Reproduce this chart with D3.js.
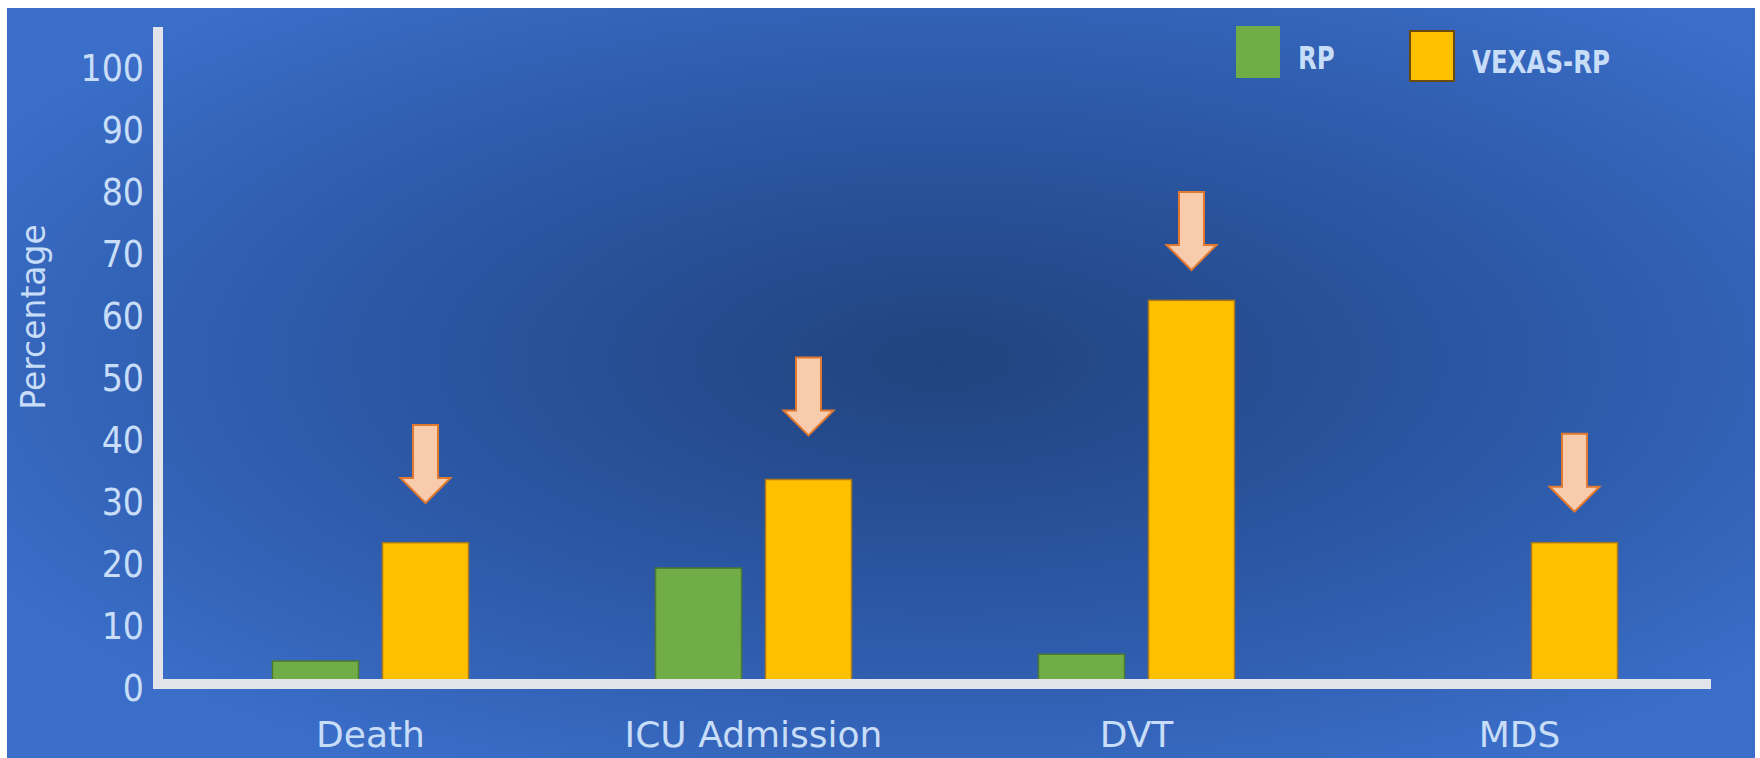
<!DOCTYPE html>
<html>
<head>
<meta charset="utf-8">
<script src="https://cdn.jsdelivr.net/npm/d3@7"></script>
<style>
  html, body { margin: 0; padding: 0; background: #ffffff; }
  svg { display: block; }
</style>
</head>
<body>
<svg id="chart" width="1760" height="758"></svg>
<script>
// Outcome categories and the two compared groups
const categories = ["Death", "ICU Admission", "DVT", "MDS"];
const seriesNames = ["RP", "VEXAS-RP"];
const rpValues = [3.7, 18.7, 4.8, 0];
const vexasValues = [22.8, 33, 61.9, 22.8];
// Level (in %) where each highlighting arrow points
const arrowTipLevels = [29.2, 40.1, 66.8, 27.8];
const yTicks = [0, 10, 20, 30, 40, 50, 60, 70, 80, 90, 100];

const W = 1760, H = 758;
const svg = d3.select("#chart");

// Background panel with a radial blue shading
const defs = svg.append("defs");
const grad = defs.append("radialGradient")
  .attr("id", "bg")
  .attr("cx", 0.535).attr("cy", 0.47).attr("r", 0.62)
  .attr("fx", 0.535).attr("fy", 0.47);
grad.append("stop").attr("offset", "0%").attr("stop-color", "#21437e");
grad.append("stop").attr("offset", "55%").attr("stop-color", "#2c58a6");
grad.append("stop").attr("offset", "100%").attr("stop-color", "#3a6ec8");

svg.append("rect")
  .attr("x", 7).attr("y", 8)
  .attr("width", 1748).attr("height", H - 8)
  .attr("fill", "url(#bg)");

// Scales
const axisX = 158;
const x0 = d3.scaleBand().domain(categories).range([179, 1711]);
const groupW = 196;
const x1 = d3.scaleBand().domain(seriesNames)
  .range([(x0.bandwidth() - groupW) / 2, (x0.bandwidth() + groupW) / 2])
  .paddingInner(24 / 110);
const y = d3.scaleLinear().domain([0, 106]).range([684, 27]);

const colors = { "RP": "#70ad47", "VEXAS-RP": "#ffc000" };
const strokes = { "RP": "#4d7a2e", "VEXAS-RP": "#a9781a" };

const rows = categories.map((c, i) => ({
  category: c,
  values: [
    { series: "RP", value: rpValues[i] },
    { series: "VEXAS-RP", value: vexasValues[i] }
  ],
  arrow: arrowTipLevels[i]
}));

// Bars
const groups = svg.append("g").selectAll("g")
  .data(rows).join("g")
  .attr("transform", d => `translate(${x0(d.category)},0)`);

groups.selectAll("rect")
  .data(d => d.values.filter(v => v.value > 0))
  .join("rect")
  .attr("x", d => x1(d.series))
  .attr("y", d => y(d.value))
  .attr("width", x1.bandwidth())
  .attr("height", d => y(0) - y(d.value))
  .attr("fill", d => colors[d.series])
  .attr("stroke", d => strokes[d.series])
  .attr("stroke-width", 1.5);

// Down arrows above the VEXAS-RP bars
const arrowLen = 78, headLen = 25, shaftW = 25, headW = 50;
groups.append("path")
  .attr("d", d => {
    const cx = x1("VEXAS-RP") + x1.bandwidth() / 2;
    const tip = y(d.arrow);
    const top = tip - arrowLen;
    const hb = tip - headLen;
    return `M${cx - shaftW / 2},${top} L${cx + shaftW / 2},${top} L${cx + shaftW / 2},${hb} ` +
           `L${cx + headW / 2},${hb} L${cx},${tip} L${cx - headW / 2},${hb} ` +
           `L${cx - shaftW / 2},${hb} Z`;
  })
  .attr("fill", "#f8cbad")
  .attr("stroke", "#e0782f")
  .attr("stroke-width", 2)
  .attr("stroke-linejoin", "miter");

// Axes
const textColor = "#c8ddf7";
const yAxis = svg.append("g")
  .attr("transform", `translate(${axisX},0)`)
  .call(d3.axisLeft(y).tickValues(yTicks).tickSize(0).tickPadding(14));
yAxis.select(".domain").remove();
yAxis.selectAll("text")
  .attr("dy", "0.45em")
  .attr("fill", textColor)
  .style("font-family", "'DejaVu Sans Condensed', 'DejaVu Sans', sans-serif")
  .style("font-stretch", "condensed")
  .style("font-size", "37px");

const xAxis = svg.append("g")
  .attr("transform", `translate(0,${y(0)})`)
  .call(d3.axisBottom(x0).tickSize(0).tickPadding(0));
xAxis.select(".domain").remove();
xAxis.selectAll("text")
  .attr("dy", "1.76em")
  .attr("fill", textColor)
  .style("font-family", "'DejaVu Sans', sans-serif")
  .style("font-size", "36px");

// Axis lines
svg.append("line")
  .attr("x1", axisX).attr("x2", axisX)
  .attr("y1", y(106)).attr("y2", y(0) + 5)
  .attr("stroke", "#e3e3ec").attr("stroke-width", 10);
svg.append("line")
  .attr("x1", axisX - 5).attr("x2", x0.range()[1])
  .attr("y1", y(0)).attr("y2", y(0))
  .attr("stroke", "#e3e3ec").attr("stroke-width", 10);

// Y axis title
svg.append("text")
  .attr("transform", `translate(45,${317}) rotate(-90)`)
  .attr("text-anchor", "middle")
  .attr("fill", textColor)
  .style("font-family", "'DejaVu Sans', sans-serif")
  .style("font-size", "33px")
  .text("Percentage");

// Legend
const legend = svg.append("g");
const legendItems = [
  { name: "RP", x: 1236, y: 26, w: 44, h: 52, stroke: "none", tx: 1298, ty: 57 },
  { name: "VEXAS-RP", x: 1410, y: 31, w: 44, h: 50, stroke: "#6b4a12", tx: 1472, ty: 61 }
];
legendItems.forEach(it => {
  legend.append("rect")
    .attr("x", it.x).attr("y", it.y)
    .attr("width", it.w).attr("height", it.h)
    .attr("fill", colors[it.name])
    .attr("stroke", it.stroke).attr("stroke-width", 2);
  legend.append("text")
    .attr("transform", `translate(${it.tx},${it.ty}) scale(0.85,1)`)
    .attr("dy", "0.36em")
    .attr("fill", textColor)
    .style("font-family", "'DejaVu Sans Condensed', 'DejaVu Sans', sans-serif")
    .style("font-stretch", "condensed")
    .style("font-weight", "bold")
    .style("font-size", "32px")
    .text(it.name);
});
</script>
</body>
</html>
